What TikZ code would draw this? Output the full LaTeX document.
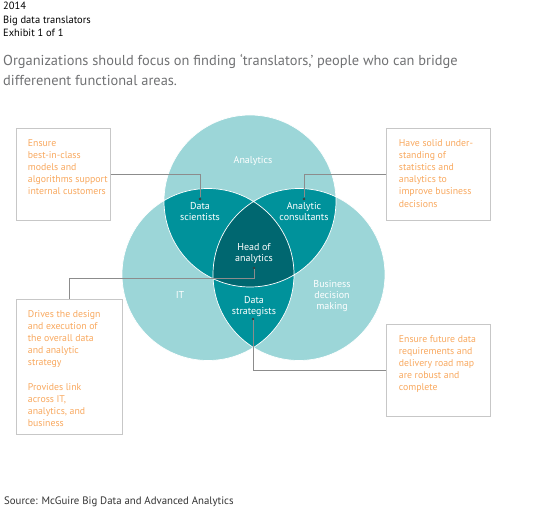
\documentclass[tikz,border=0pt]{standalone}
\usepackage{fontspec}
\setmainfont{PT Sans}
\usetikzlibrary{positioning}
\definecolor{tealLight}{HTML}{9CD6D8}
\definecolor{tealMid}{HTML}{00929B}
\definecolor{tealDark}{HTML}{006770}
\definecolor{boxOrange}{HTML}{F8A85E}
\definecolor{titleGray}{HTML}{707173}
\begin{document}
\begin{tikzpicture}[x=1pt,y=-1pt,
  infobox/.style={draw=black!22,line width=0.8pt,anchor=north west,inner sep=0pt},
  boxtext/.style={anchor=north west,inner sep=0pt,align=left,text=boxOrange,font=\fontsize{9.8}{12.2}\selectfont},
  vlabel/.style={text=white,align=center,font=\fontsize{10}{11}\selectfont},
  connector/.style={draw=black!45,line width=0.6pt},
  dot/.style={circle,fill=black!75,inner sep=0pt,minimum size=2.6pt}]
  \useasboundingbox (0,0) rectangle (544,513);
  % header and title
  \node[anchor=north west,inner sep=0pt,align=left,font=\fontsize{10.5}{13.5}\selectfont] (head) at (3,2) {2014\\Big data translators\\Exhibit 1 of 1};
  \node[anchor=north west,inner sep=0pt,align=left,text=titleGray,font=\fontsize{14.4}{20}\selectfont] (title) at (3,54) {Organizations should focus on finding ‘translators,’ people who can bridge\\differenent functional areas.};
  % circles
  \coordinate (cA) at (250,201);
  \coordinate (cIT) at (208,274.5);
  \coordinate (cBD) at (299,274.5);
  \fill[tealLight] (cA) circle[radius=86pt] (cIT) circle[radius=86pt] (cBD) circle[radius=86pt];
  \begin{scope}
    \clip (cA) circle[radius=86pt];
    \fill[tealMid] (cIT) circle[radius=86pt] (cBD) circle[radius=86pt];
  \end{scope}
  \begin{scope}
    \clip (cIT) circle[radius=86pt];
    \fill[tealMid] (cBD) circle[radius=86pt];
  \end{scope}
  \begin{scope}
    \clip (cA) circle[radius=86pt];
    \clip (cIT) circle[radius=86pt];
    \fill[tealDark] (cBD) circle[radius=86pt];
  \end{scope}
  \draw[white,line width=0.7pt] (cA) circle[radius=86pt] (cIT) circle[radius=86pt] (cBD) circle[radius=86pt];
  % labels
  \node[vlabel] (lA) at (253,161) {Analytics};
  \node[vlabel] (lIT) at (180,295) {IT};
  \node[vlabel] (lBD) at (332,296) {Business\\decision\\making};
  \node[vlabel] (lDS) at (200,212) {Data\\scientists};
  \node[vlabel] (lAC) at (304,212) {Analytic\\consultants};
  \node[vlabel] (lHA) at (254,253) {Head of\\analytics};
  \node[vlabel] (lST) at (254,307) {Data\\strategists};
  \node[dot] (dotDS) at (200,199) {};
  \node[dot] (dotAC) at (304,199) {};
  \node[dot] (dotHA) at (254,268) {};
  \node[dot] (dotST) at (253,319) {};
  % boxes
  \node[infobox,minimum width=94pt,minimum height=92pt] (boxDS) at (15.7,128) {};
  \node[boxtext] at ([shift={(12,11)}]boxDS.north west) {Ensure\\best-in-class\\models and\\algorithms support\\internal customers};
  \node[infobox,minimum width=104pt,minimum height=92pt] (boxAC) at (385.7,128) {};
  \node[boxtext] at ([shift={(13,11)}]boxAC.north west) {Have solid under-\\standing of\\statistics and\\analytics to\\improve business\\decisions};
  \node[infobox,minimum width=106pt,minimum height=135pt] (boxHA) at (15.7,299) {};
  \node[boxtext] at ([shift={(12,11)}]boxHA.north west) {Drives the design\\and execution of\\the overall data\\and analytic\\strategy\\[12pt]Provides link\\across IT,\\analytics, and\\business};
  \node[infobox,minimum width=104pt,minimum height=92pt] (boxST) at (385.7,324) {};
  \node[boxtext] at ([shift={(13,11)}]boxST.north west) {Ensure future data\\requirements and\\delivery road map\\are robust and\\complete};
  % connectors
  \draw[connector] (boxDS.east) -- (boxDS.east -| dotDS) -- (dotDS);
  \draw[connector] (boxAC.west) -- (boxAC.west -| dotAC) -- (dotAC);
  \draw[connector] (boxHA.north) |- ([yshift=-10pt]dotHA.center) -- (dotHA);
  \draw[connector] (boxST.west) -- (boxST.west -| dotST) -- (dotST);
  % source
  \node[anchor=west,inner sep=0pt,text=black!80,font=\fontsize{10.8}{12}\selectfont] (source) at (4,502) {Source: McGuire Big Data and Advanced Analytics};
\end{tikzpicture}
\end{document}
